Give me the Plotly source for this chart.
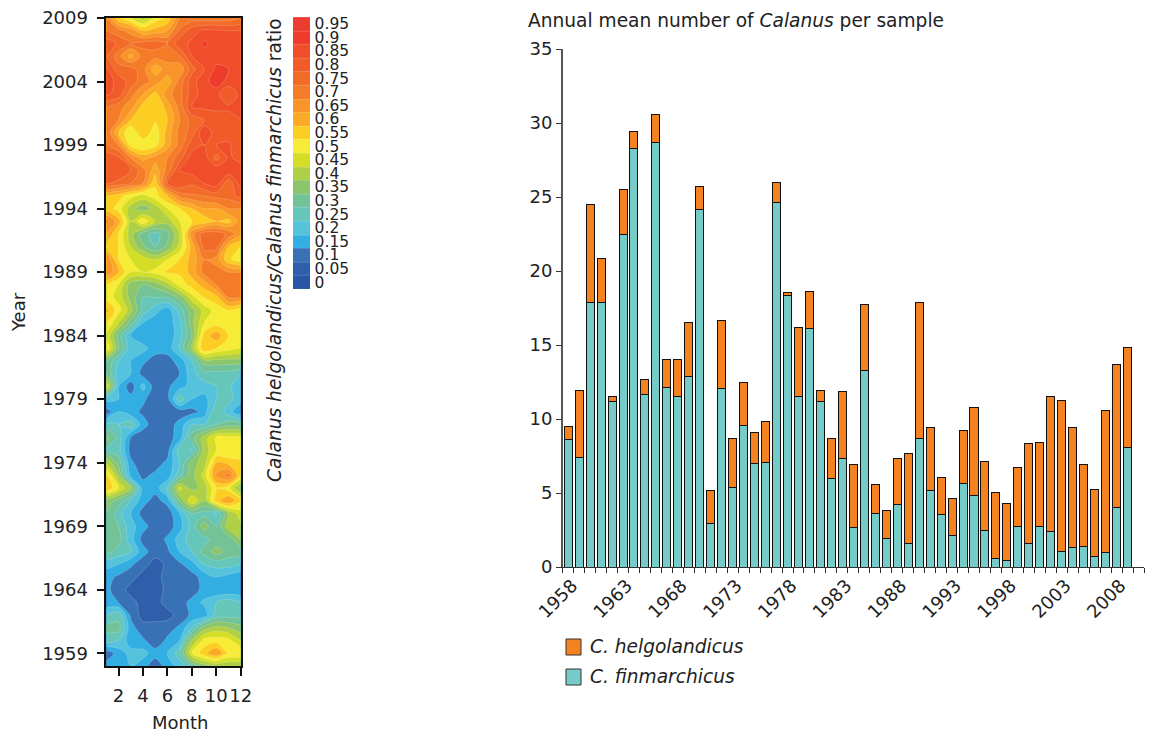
import plotly.graph_objects as go

W, H = 1149, 736
FONT = "DejaVu Sans"

months = list(range(1, 13))
ratio_years = list(range(2009, 1957, -1))
ratio = [
    [.70,.56,.50,.42,.52,.56,.70,.72,.72,.72,.72,.75],  # 2009
    [.75,.72,.68,.60,.62,.65,.76,.83,.86,.86,.85,.85],
    [.83,.79,.75,.77,.78,.75,.83,.86,.91,.88,.86,.86],
    [.81,.72,.63,.72,.72,.72,.75,.85,.88,.88,.86,.86],
    [.86,.77,.77,.72,.62,.68,.66,.78,.85,.91,.90,.86],
    [.88,.83,.78,.72,.68,.62,.72,.83,.88,.93,.88,.87],  # 2004
    [.86,.83,.72,.65,.58,.68,.73,.83,.87,.87,.80,.87],
    [.75,.72,.67,.58,.55,.62,.72,.85,.86,.86,.86,.86],
    [.73,.70,.60,.55,.56,.60,.70,.77,.80,.83,.83,.85],
    [.75,.60,.50,.60,.52,.62,.72,.77,.90,.82,.82,.84],
    [.76,.70,.53,.50,.53,.63,.72,.83,.85,.85,.86,.80],  # 1999
    [.83,.81,.70,.63,.67,.70,.78,.87,.88,.78,.86,.83],
    [.85,.85,.80,.72,.62,.72,.85,.87,.88,.89,.89,.88],
    [.81,.78,.75,.70,.56,.80,.85,.81,.85,.88,.76,.88],
    [.60,.57,.52,.48,.53,.60,.72,.74,.75,.77,.77,.82],
    [.58,.53,.42,.37,.42,.50,.55,.60,.65,.65,.70,.70],  # 1994
    [.72,.62,.45,.54,.45,.42,.50,.55,.56,.60,.58,.68],
    [.65,.55,.42,.32,.28,.33,.45,.68,.78,.78,.74,.66],
    [.60,.55,.45,.36,.30,.36,.47,.62,.77,.77,.60,.55],
    [.70,.55,.50,.48,.45,.50,.55,.62,.70,.68,.56,.52],
    [.70,.60,.50,.50,.52,.56,.56,.62,.72,.72,.70,.70],  # 1989
    [.55,.50,.37,.35,.37,.43,.52,.57,.62,.70,.73,.73],
    [.53,.48,.38,.30,.30,.30,.36,.48,.55,.58,.70,.70],
    [.62,.52,.42,.28,.22,.17,.27,.38,.47,.52,.55,.52],
    [.55,.45,.33,.20,.17,.17,.23,.38,.50,.53,.52,.50],
    [.50,.33,.20,.16,.16,.16,.23,.35,.57,.63,.55,.50],  # 1984
    [.55,.35,.22,.22,.17,.17,.25,.40,.60,.55,.52,.50],
    [.35,.25,.20,.16,.13,.13,.17,.25,.38,.38,.38,.38],
    [.35,.22,.20,.13,.12,.12,.15,.23,.28,.28,.28,.25],
    [.50,.20,.12,.22,.12,.14,.18,.22,.23,.25,.26,.22],
    [.22,.20,.17,.16,.12,.13,.28,.20,.18,.25,.27,.22],  # 1979
    [.12,.20,.17,.14,.12,.12,.12,.13,.17,.30,.22,.16],
    [.27,.25,.28,.17,.12,.12,.17,.25,.25,.30,.33,.33],
    [.37,.28,.15,.12,.12,.13,.17,.33,.42,.51,.51,.51],
    [.30,.27,.13,.12,.12,.13,.28,.24,.42,.50,.50,.52],
    [.45,.33,.16,.12,.13,.16,.25,.38,.42,.60,.58,.56],  # 1974
    [.57,.40,.18,.14,.16,.17,.28,.38,.47,.66,.72,.55],
    [.60,.50,.40,.17,.17,.26,.47,.38,.42,.55,.52,.38],
    [.38,.33,.25,.17,.13,.17,.35,.50,.40,.58,.65,.55],
    [.35,.27,.20,.13,.12,.12,.20,.30,.28,.24,.40,.48],
    [.35,.30,.22,.17,.12,.12,.18,.27,.38,.30,.43,.44],  # 1969
    [.35,.32,.22,.13,.12,.16,.22,.28,.28,.32,.32,.40],
    [.32,.28,.25,.17,.12,.14,.20,.25,.32,.37,.33,.33],
    [.22,.20,.16,.12,.08,.11,.14,.18,.25,.27,.27,.25],
    [.17,.14,.12,.08,.08,.12,.12,.13,.17,.20,.18,.16],
    [.16,.13,.08,.08,.08,.11,.11,.12,.17,.16,.16,.16],  # 1964
    [.17,.15,.12,.08,.08,.12,.12,.17,.21,.25,.28,.25],
    [.25,.28,.14,.08,.08,.08,.12,.16,.17,.27,.28,.28],
    [.32,.32,.17,.12,.12,.13,.16,.25,.38,.42,.40,.37],
    [.27,.25,.17,.16,.12,.16,.20,.40,.52,.53,.52,.45],
    [.12,.17,.22,.22,.17,.20,.28,.50,.58,.65,.55,.55],  # 1959
    [.17,.16,.20,.17,.12,.17,.22,.30,.37,.40,.40,.40],
]

band_colors = [
    "#2855A5","#2F5FAB","#3971B6","#33AEE3","#55C3DC","#66C6BA","#74C397","#8BC66D",
    "#AFD045","#D4DE27","#F7EC35","#FDCE22","#FBAA26","#F89429","#F47B28","#F26B28",
    "#F15A29","#F04E2A","#EF3B2C","#EE3B2F",
]
band_labels = ["0","0.05","0.1","0.15","0.2","0.25","0.3","0.35","0.4","0.45","0.5",
               "0.55","0.6","0.65","0.7","0.75","0.8","0.85","0.9","0.95"]
band_centers = [0.025 + 0.05 * i for i in range(20)]

years = [str(y) for y in range(1958, 2010)]
axis_years = years + ["2010"]
finmarchicus = [8.6,7.4,17.9,17.9,11.2,22.5,28.25,11.65,28.7,12.1,11.55,12.9,24.15,2.95,12.05,5.4,9.55,7.0,7.05,24.6,
                18.35,11.5,16.1,11.2,6.0,7.3,2.7,13.3,3.6,1.9,4.2,1.6,8.7,5.2,3.55,2.15,5.65,4.8,2.45,0.55,
                0.45,2.75,1.6,2.75,2.4,1.05,1.3,1.4,0.7,1.0,4.05,8.1]
helgolandicus = [0.9,4.5,6.6,2.95,0.3,3.0,1.15,1.0,1.85,1.9,2.5,3.65,1.55,2.25,4.6,3.25,2.9,2.1,2.75,1.4,
                 0.2,4.65,2.5,0.7,2.7,4.55,4.2,4.45,2.0,1.9,3.15,6.05,9.2,4.2,2.5,2.5,3.55,6.0,4.7,4.5,
                 3.85,4.0,6.75,5.65,9.1,10.2,8.1,5.5,4.55,9.6,9.6,6.75]

def fx(px): return px / W
def fy(py): return 1 - py / H

scale = []
for i, c in enumerate(band_colors):
    scale += [[i / 20, c], [(i + 1) / 20, c]]

fig = go.Figure()
fig.add_trace(go.Contour(
    x=months, y=ratio_years, z=ratio, xaxis="x", yaxis="y",
    colorscale=scale, zmin=0, zmax=1, autocontour=False,
    contours=dict(start=0, end=1, size=0.05, coloring="fill"),
    line=dict(color="rgba(255,255,255,0.3)", width=0.6, smoothing=1),
    colorbar=dict(
        x=fx(293), xanchor="left", xref="paper", y=fy(289), yanchor="bottom", yref="paper",
        len=272 / H, lenmode="fraction", thickness=17, thicknessmode="pixels",
        outlinewidth=0, ticks="outside", ticklen=2, tickcolor="rgba(0,0,0,0)", tickmode="array",
        tickvals=band_centers, ticktext=band_labels,
        tickfont=dict(family=FONT, size=15.5, color="#222"), xpad=0, ypad=0,
    ),
    hoverinfo="skip",
))
fig.add_trace(go.Bar(x=years, y=finmarchicus, name="C. finmarchicus", xaxis="x2", yaxis="y2",
                     marker=dict(color="#74CBC8", line=dict(color="#111", width=1)), showlegend=False))
fig.add_trace(go.Bar(x=years, y=helgolandicus, name="C. helgolandicus", xaxis="x2", yaxis="y2",
                     marker=dict(color="#F58220", line=dict(color="#111", width=1)), showlegend=False))

shapes = []
annots = [
    dict(x=fx(274), y=fy(250), text="<i>Calanus helgolandicus/Calanus finmarchicus</i> ratio", textangle=-90,
         font=dict(family=FONT, size=18.6, color="#222")),
    dict(x=fx(526), y=fy(20), xanchor="left", text="Annual mean number of <i>Calanus</i> per sample",
         font=dict(family=FONT, size=18.6, color="#222")),
    dict(x=fx(18), y=fy(312), text="Year", textangle=-90, font=dict(family=FONT, size=18, color="#222")),
    dict(x=fx(180), y=fy(722), text="Month", font=dict(family=FONT, size=18, color="#222")),
]
for label, color, cy in [("C. helgolandicus", "#F58220", 647), ("C. finmarchicus", "#74CBC8", 677)]:
    shapes.append(dict(type="rect", xref="paper", yref="paper", x0=fx(566), x1=fx(581), y0=fy(cy + 8), y1=fy(cy - 8),
                       fillcolor=color, line=dict(color="#333", width=1)))
    annots.append(dict(x=fx(588), y=fy(cy - 1), xanchor="left", text=f"<i>{label}</i>",
                       font=dict(family=FONT, size=18.6, color="#222")))
for a in annots:
    a.update(xref="paper", yref="paper", showarrow=False)
    if "xanchor" not in a:
        a["xanchor"] = "center"
    a["yanchor"] = "middle"

tick_font = dict(family=FONT, size=18, color="#222")
fig.update_layout(
    width=W, height=H, margin=dict(l=0, r=0, t=0, b=0, autoexpand=False), autosize=False,
    paper_bgcolor="white", plot_bgcolor="white", barmode="stack", bargap=0.27,
    font=dict(family=FONT, color="#222"), shapes=shapes, annotations=annots,
    xaxis=dict(domain=[fx(106.3), fx(240.7)], range=[1, 12], tickmode="array", tickvals=[2, 4, 6, 8, 10, 12],
               tickangle=0, ticks="outside", ticklen=8, tickcolor="#111", tickwidth=1.5, showline=True, linecolor="#111", linewidth=1.5,
               mirror=True, showgrid=False, zeroline=False, tickfont=tick_font, ticklabelstandoff=5),
    yaxis=dict(domain=[fy(666), fy(18)], range=[1958, 2009], tickmode="array", tickvals=list(range(1959, 2010, 5)),
               ticks="outside", ticklen=8, tickcolor="#111", tickwidth=1.5, showline=True, linecolor="#111", linewidth=1.5,
               mirror=True, showgrid=False, zeroline=False, tickfont=tick_font, ticklabelstandoff=5),
    xaxis2=dict(domain=[fx(562.7), fx(1144)], anchor="y2", type="category", categoryorder="array", categoryarray=axis_years,
                range=[-0.5, 52.5], tickson="boundaries", dtick=1, ticklabelstep=5, tickangle=-45, ticks="outside", ticklen=5,
                tickcolor="#333", showline=True, linecolor="#333", linewidth=1, showgrid=False, zeroline=False,
                tickfont=dict(family=FONT, size=18, color="#222"), ticklabelshift=4),
    yaxis2=dict(domain=[fy(567), fy(49)], anchor="x2", range=[0, 35], dtick=5, ticks="outside", ticklen=5,
                tickcolor="#333", showline=True, linecolor="#555", linewidth=1.5, showgrid=False, zeroline=False,
                tickfont=dict(family=FONT, size=18, color="#222")),
)
fig.write_html("out.html", config=dict(displayModeBar=False), post_script="document.body.style.margin='0';")
